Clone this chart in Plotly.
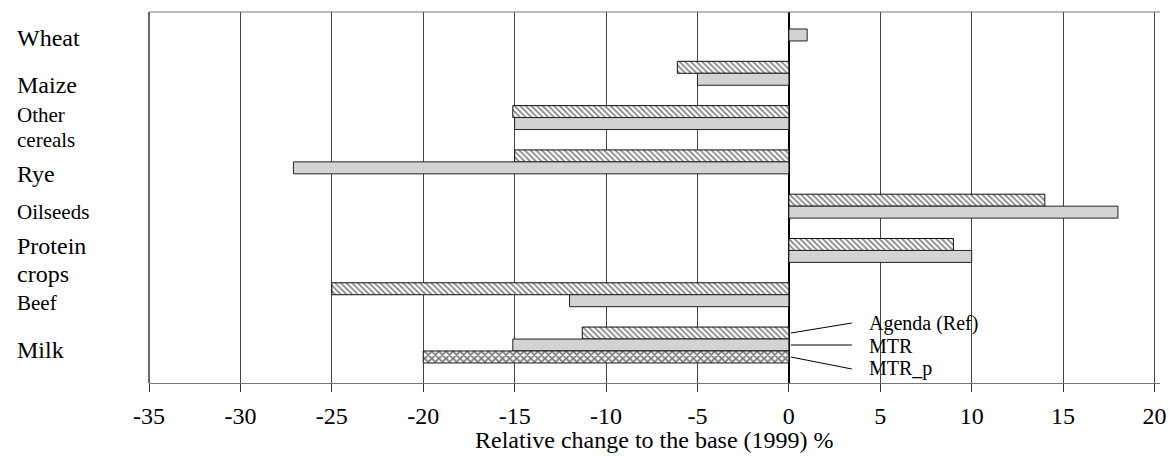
import plotly.graph_objects as go

# ---- data ----
categories = ["Wheat", "Maize", "Other cereals", "Rye", "Oilseeds", "Protein crops", "Beef", "Milk"]
category_labels = [["Wheat"], ["Maize"], ["Other", "cereals"], ["Rye"], ["Oilseeds"],
                   ["Protein", "crops"], ["Beef"], ["Milk"]]
agenda_ref = [None, -6.1, -15.1, -15.0, 14.0, 9.0, -25.0, -11.3]
mtr = [1.0, -5.0, -15.0, -27.1, 18.0, 10.0, -12.0, -15.1]
mtr_p = [None, None, None, None, None, None, None, -20.0]
series_names = ["Agenda (Ref)", "MTR", "MTR_p"]
x_ticks = [-35, -30, -25, -20, -15, -10, -5, 0, 5, 10, 15, 20]
x_title = "Relative change to the base (1999) %"

# ---- styles ----
FONT = "Liberation Serif"
label_sizes = [24, 24, 21, 24, 21, 24, 21, 24]
label_yshift = [-3, -6, -4, -6, 0, -4, -2, -5]
line_gap = {21: 25, 24: 28}

fig = go.Figure()
fig.add_trace(go.Bar(
    y=categories, x=agenda_ref, orientation="h", name=series_names[0],
    marker=dict(color="white", line=dict(color="#111", width=1),
                pattern=dict(shape="\\", fgcolor="black", bgcolor="white", size=4, solidity=0.4)),
))
fig.add_trace(go.Bar(
    y=categories, x=mtr, orientation="h", name=series_names[1],
    marker=dict(color="#d3d3d3", line=dict(color="#222", width=1)),
))
fig.add_trace(go.Bar(
    y=categories, x=mtr_p, orientation="h", name=series_names[2],
    marker=dict(color="white", line=dict(color="#111", width=1),
                pattern=dict(shape="x", fgcolor="black", bgcolor="white", size=5, solidity=0.6)),
))

n = len(categories)
fig.update_layout(
    width=1169, height=457,
    margin=dict(l=149, r=9, t=12, b=74, autoexpand=False),
    paper_bgcolor="white", plot_bgcolor="white",
    barmode="group", bargap=0.19, bargroupgap=0,
    showlegend=False,
    font=dict(family=FONT, size=24, color="black"),
    xaxis=dict(
        range=[-35, 20.3], tickvals=x_ticks, ticktext=[str(v) for v in x_ticks],
        automargin=False,
        showgrid=True, gridcolor="#444", gridwidth=1,
        zeroline=True, zerolinecolor="black", zerolinewidth=1.5,
        showline=True, linecolor="#777", linewidth=1,
        ticks="outside", ticklen=8, tickcolor="#333",
        ticklabelstandoff=3, ticklabeloverflow="allow",
        tickfont=dict(family=FONT, size=24),
    ),
    yaxis=dict(
        type="category", categoryorder="array", categoryarray=categories,
        range=[n - 1 + 0.858, -0.519], automargin=False,
        showticklabels=False, showgrid=False, zeroline=False,
        showline=False, ticks="",
    ),
)

# x-axis title
fig.add_annotation(text=x_title, xref="paper", x=0.5, yref="paper", y=0, yshift=-57,
                   xanchor="center", yanchor="middle", showarrow=False,
                   font=dict(family=FONT, size=24, color="black"))

# frame: black left edge, grey top edge
fig.add_shape(type="line", xref="paper", yref="paper", x0=0, x1=0, y0=0, y1=1,
              line=dict(color="black", width=1.2))
fig.add_shape(type="line", xref="paper", yref="paper", x0=0, x1=1, y0=1, y1=1,
              line=dict(color="#777", width=1))

# category labels (left aligned, multi-line labels set with tight line spacing)
for lines, cat, fs, ys in zip(category_labels, categories, label_sizes, label_yshift):
    k = len(lines)
    gap = line_gap[fs]
    for i, ln in enumerate(lines):
        off = ((k - 1) / 2 - i) * gap
        fig.add_annotation(text=ln, xref="paper", x=0, xshift=-134, xanchor="left",
                           yref="y", y=cat, yshift=ys + off, showarrow=False,
                           font=dict(family=FONT, size=fs, color="black"))

# in-chart legend with leader lines, anchored at the Milk group
milk_idx = categories.index("Milk")
leader = [(2, 63, 12, 22), (2, 63, 0, 0), (2, 63, -12, -24)]
text_shift = [22, -1, -23]
for name, (x0, x1, y0, y1), ts in zip(series_names, leader, text_shift):
    fig.add_shape(type="line", xref="x", yref="y", xsizemode="pixel", ysizemode="pixel",
                  xanchor=0, yanchor=milk_idx, x0=x0, x1=x1, y0=y0, y1=y1,
                  line=dict(color="black", width=1))
    fig.add_annotation(text=name, xref="x", x=0, xshift=78, xanchor="left",
                       yref="y", y=categories[milk_idx], yshift=ts, showarrow=False,
                       font=dict(family=FONT, size=20, color="black"))

fig.write_html(
    "out.html",
    config={"displayModeBar": False},
    post_script="document.body.style.margin='0';document.body.style.overflow='hidden';",
)
